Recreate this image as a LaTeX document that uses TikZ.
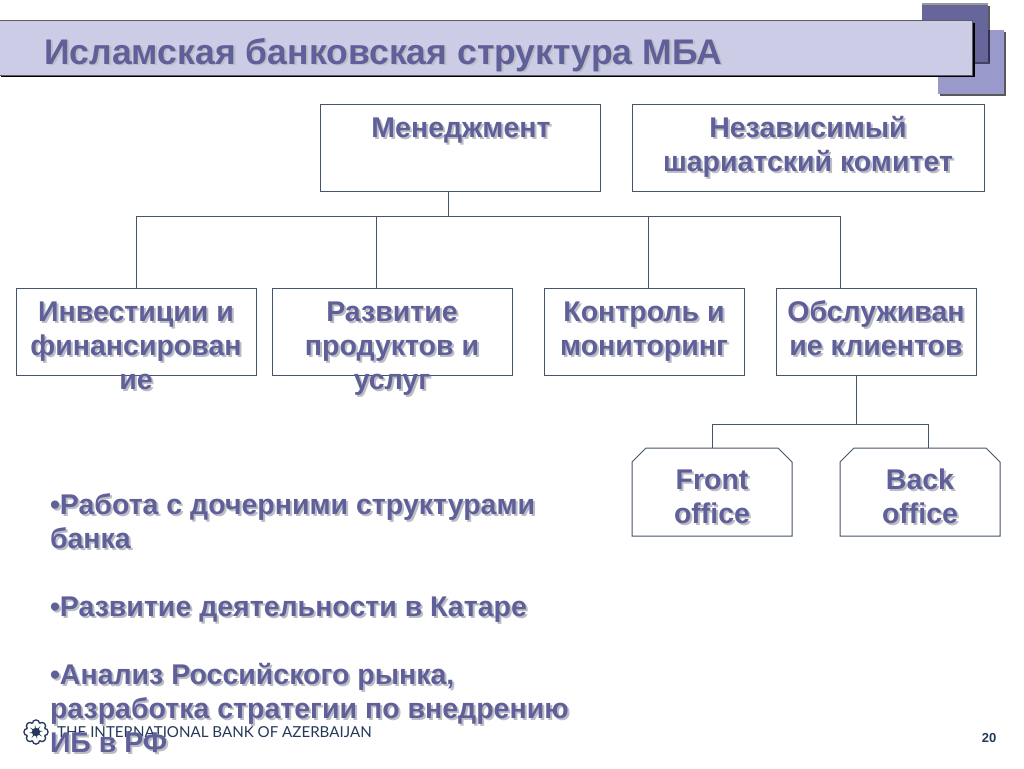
\documentclass[tikz,border=0pt]{standalone}
\usepackage{fontspec}
\setmainfont{Liberation Sans}
\newfontfamily\logofont{Lato}
\definecolor{txtc}{HTML}{5F5F99}
\definecolor{shdc}{HTML}{BCBCC4}
\definecolor{band}{HTML}{CCCCE6}
\definecolor{sqdark}{HTML}{66669A}
\definecolor{sqlight}{HTML}{9999CC}
\definecolor{linec}{HTML}{44546A}
\definecolor{logoc}{HTML}{24385A}
\tikzset{
  x=1pt,y=-1pt,
  boxnode/.style={draw=linec,line width=0.95pt,fill=white,rectangle,inner sep=0pt,outer sep=0pt},
  conn/.style={draw=linec,line width=0.95pt},
  chamfer/.style={draw=linec,line width=1pt,fill=white},
  lbl/.style={inner sep=0pt,outer sep=0pt,anchor=north,align=center,font=\fontsize{28.5}{34}\bfseries\selectfont,text=txtc},
  lblshadow/.style={lbl,text=shdc},
  bullets/.style={inner sep=0pt,outer sep=0pt,anchor=north west,align=left,font=\fontsize{28.5}{34}\bfseries\selectfont,text=txtc},
  bulletsshadow/.style={bullets,text=shdc},
}
% #1 name, #2 centre x, #3 first baseline y, #4 text
\newcommand{\shlabel}[4]{%
  \node[lblshadow] (#1s) at (#2+2,#3+2-24) {\rule{0pt}{24pt}#4};
  \node[lbl] (#1) at (#2,#3-24) {\rule{0pt}{24pt}#4};}
\begin{document}
\begin{tikzpicture}
\useasboundingbox (0,0) rectangle (1024,768);
\fill[white] (0,0) rectangle (1024,768);
% decorative squares
\fill[gray!70!black] (924,6) rectangle (990,64);
\fill[sqdark] (922,4) rectangle (988,62);
\draw[color=gray!80,line width=1.2pt] (922,4) -- (988,4);
\fill[gray!70!black] (940,32) rectangle (1006,96);
\fill[sqlight] (938,30) rectangle (1004,94);
\fill[sqdark] (924,6) rectangle (988,30);
\fill[sqdark] (938,30) rectangle (988,62);
\fill[black!50!sqdark] (988,30) rectangle (990,64);
\fill[black!35!sqdark] (938,62) rectangle (990,64);
% title band
\fill[black] (1,23) rectangle (975,77);
\fill[band] (0,20) rectangle (972,75);
\draw[color=black!55!band,line width=1.6pt] (0,20.5) -- (972,20.5);
\draw[color=black!55!band,line width=0.8pt] (972,20) -- (972,75) -- (0,75);
\node[inner sep=0pt,anchor=base west,font=\fontsize{35.6}{40}\bfseries\selectfont,text=shdc] (titles) at (46,66) {Исламская банковская структура МБА};
\node[inner sep=0pt,anchor=base west,font=\fontsize{35.6}{40}\bfseries\selectfont,text=txtc] (title) at (44,64) {Исламская банковская структура МБА};
% boxes
\node[boxnode,minimum width=280pt,minimum height=87pt,anchor=north west] (mgmt) at (320,104) {};
\node[boxnode,minimum width=352pt,minimum height=87pt,anchor=north west] (sharia) at (632,104) {};
\node[boxnode,minimum width=240pt,minimum height=87pt,anchor=north west] (inv) at (16,288) {};
\node[boxnode,minimum width=240pt,minimum height=87pt,anchor=north west] (dev) at (272,288) {};
\node[boxnode,minimum width=200pt,minimum height=87pt,anchor=north west] (ctl) at (544,288) {};
\node[boxnode,minimum width=200pt,minimum height=87pt,anchor=north west] (svc) at (776,288) {};
\coordinate (bus) at (448,216);
\coordinate (busL) at (136,216);
\coordinate (busD) at (376,216);
\coordinate (busC) at (648,216);
\coordinate (busR) at (840,216);
\draw[conn] (mgmt.south -| bus) -- (bus);
\draw[conn] (busL) -- (busR);
\draw[conn] (busL) -- (busL |- inv.north);
\draw[conn] (busD) -- (busD |- dev.north);
\draw[conn] (busC) -- (busC |- ctl.north);
\draw[conn] (busR) -- (busR |- svc.north);
% chamfered boxes
\draw[chamfer] (646,448) -- (778,448) -- (792,462) -- (792,536) -- (632,536) -- (632,462) -- cycle;
\draw[chamfer] (854,448) -- (986,448) -- (1000,462) -- (1000,536) -- (840,536) -- (840,462) -- cycle;
\coordinate (front) at (712,448);
\coordinate (back) at (928,448);
\coordinate (bus2) at (856,424);
\coordinate (bus2L) at (712,424);
\coordinate (bus2R) at (928,424);
\draw[conn] (svc.south -| bus2) -- (bus2);
\draw[conn] (bus2L) -- (bus2R);
\draw[conn] (bus2L) -- (front);
\draw[conn] (bus2R) -- (back);
% box labels
\shlabel{tmgmt}{461}{137}{Менеджмент}
\shlabel{tsharia}{808}{137}{Независимый\\шариатский комитет}
\shlabel{tinv}{136}{321}{Инвестиции и\\финансирован\\ие}
\shlabel{tdev}{392}{321}{Развитие\\продуктов и\\услуг}
\shlabel{tctl}{644}{321}{Контроль и\\мониторинг}
\shlabel{tsvc}{876}{321}{Обслуживан\\ие клиентов}
\shlabel{tfront}{712}{489}{Front\\office}
\shlabel{tback}{920}{489}{Back\\office}
% logo
\foreach \a in {0,45,...,315}{
  \draw[logoc,line width=1.3pt,fill=white] (36,732) ++(\a:8.5) circle (3.6);
}
\fill[white] (36,732) circle (9);
\foreach \a in {0,45,...,315}{
  \fill[logoc] (36,732) -- ++(\a-16:4) -- ++(\a:3.6) -- ++(\a+164:4) -- cycle;
}
\fill[logoc] (36,732) circle (4.2);
\node[inner sep=0pt,anchor=base west,font=\logofont\fontsize{15.1}{20}\selectfont,text=logoc] (logo) at (57,737) {THE INTERNATIONAL BANK OF AZERBAIJAN};
\node[inner sep=0pt,anchor=base,font=\fontsize{13}{15}\bfseries\selectfont,text=logoc] (page) at (989,742) {20};
% bullet text
\node[bulletsshadow] (bulls) at (52,492) {\rule{0pt}{24pt}•Работа с дочерними структурами\\банка\\\mbox{}\\•Развитие деятельности в Катаре\\\mbox{}\\•Анализ Российского рынка,\\разработка стратегии по внедрению\\ИБ в РФ};
\node[bullets] (bull) at (50,490) {\rule{0pt}{24pt}•Работа с дочерними структурами\\банка\\\mbox{}\\•Развитие деятельности в Катаре\\\mbox{}\\•Анализ Российского рынка,\\разработка стратегии по внедрению\\ИБ в РФ};
\end{tikzpicture}
\end{document}
